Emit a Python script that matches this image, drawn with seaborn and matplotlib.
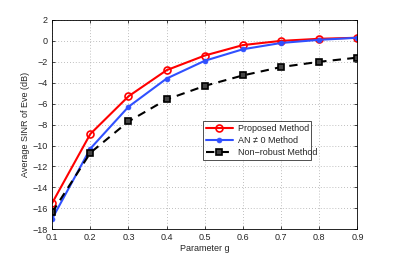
import matplotlib
matplotlib.use("Agg")
import matplotlib.pyplot as plt
import seaborn as sns
import pandas as pd

g_values = [0.1, 0.2, 0.3, 0.4, 0.5, 0.6, 0.7, 0.8, 0.9]
proposed = [-15.5, -8.9, -5.3, -2.8, -1.4, -0.4, 0.0, 0.2, 0.3]
an_nonzero = [-17.0, -10.3, -6.3, -3.6, -1.9, -0.8, -0.2, 0.1, 0.3]
non_robust = [-16.4, -10.7, -7.7, -5.6, -4.3, -3.3, -2.5, -2.0, -1.6]

series_names = ["Proposed Method", "AN \u2260 0 Method", "Non\u2212robust Method"]

df = pd.DataFrame({
    "g": g_values * 3,
    "sinr": proposed + an_nonzero + non_robust,
    "method": [series_names[0]] * 9 + [series_names[1]] * 9 + [series_names[2]] * 9,
})

sns.set_style("ticks")
plt.rcParams["font.family"] = ["Liberation Sans", "DejaVu Sans"]
plt.rcParams["font.size"] = 6.5
plt.rcParams["xtick.direction"] = "in"
plt.rcParams["ytick.direction"] = "in"

fig = plt.figure(figsize=(3.95, 2.59), dpi=100)
ax = fig.add_axes([0.132, 0.115, 0.773, 0.808])

styles = {
    series_names[0]: dict(color="red", marker="o", ms=5, mfc="none", mew=1.2, ls="-", lw=1.5),
    series_names[1]: dict(color="#3050ff", marker="o", ms=3.5, mfc="#3050ff", mew=0.5, ls="-", lw=1.5),
    series_names[2]: dict(color="black", marker="s", ms=4, mfc="#444444", mew=1.2, ls=(0, (4, 3)), lw=1.5),
}
for name in series_names:
    sub = df[df["method"] == name]
    st = styles[name]
    sns.lineplot(data=sub, x="g", y="sinr", ax=ax, label=name, color=st["color"],
                 marker=st["marker"], markersize=st["ms"], markerfacecolor=st["mfc"],
                 markeredgecolor=st["color"], markeredgewidth=st["mew"],
                 linestyle=st["ls"], linewidth=st["lw"])

ax.set_xlim(0.1, 0.9)
ax.set_ylim(-18, 2)
ax.set_xticks(g_values)
ax.set_xticklabels([str(v) for v in g_values])
ax.set_yticks(range(-18, 3, 2))
ax.set_yticklabels([str(v).replace("-", "\u2212") for v in range(-18, 3, 2)])
ax.grid(True, linestyle=(0, (1, 2.5)), color="#aaaaaa", linewidth=0.6)
ax.tick_params(length=2.5, width=0.6, labelsize=6.5, pad=3, top=True, right=True)
for sp in ax.spines.values():
    sp.set_linewidth(0.6)
    sp.set_color("black")
ax.set_xlabel("Parameter g", fontsize=6.5, labelpad=1)
ax.set_ylabel("Average SINR of Eve (dB)", fontsize=6.5, labelpad=2)

leg = ax.legend(loc="lower left", bbox_to_anchor=(0.494, 0.33, 0.355, 0.184), mode="expand",
                fontsize=6.5, frameon=True, fancybox=False, borderpad=0.3,
                handlelength=3.0, labelspacing=0.35, handletextpad=0.6, borderaxespad=0)
leg.get_frame().set_edgecolor("black")
leg.get_frame().set_linewidth(0.6)

fig.savefig("out.png", dpi=100)
